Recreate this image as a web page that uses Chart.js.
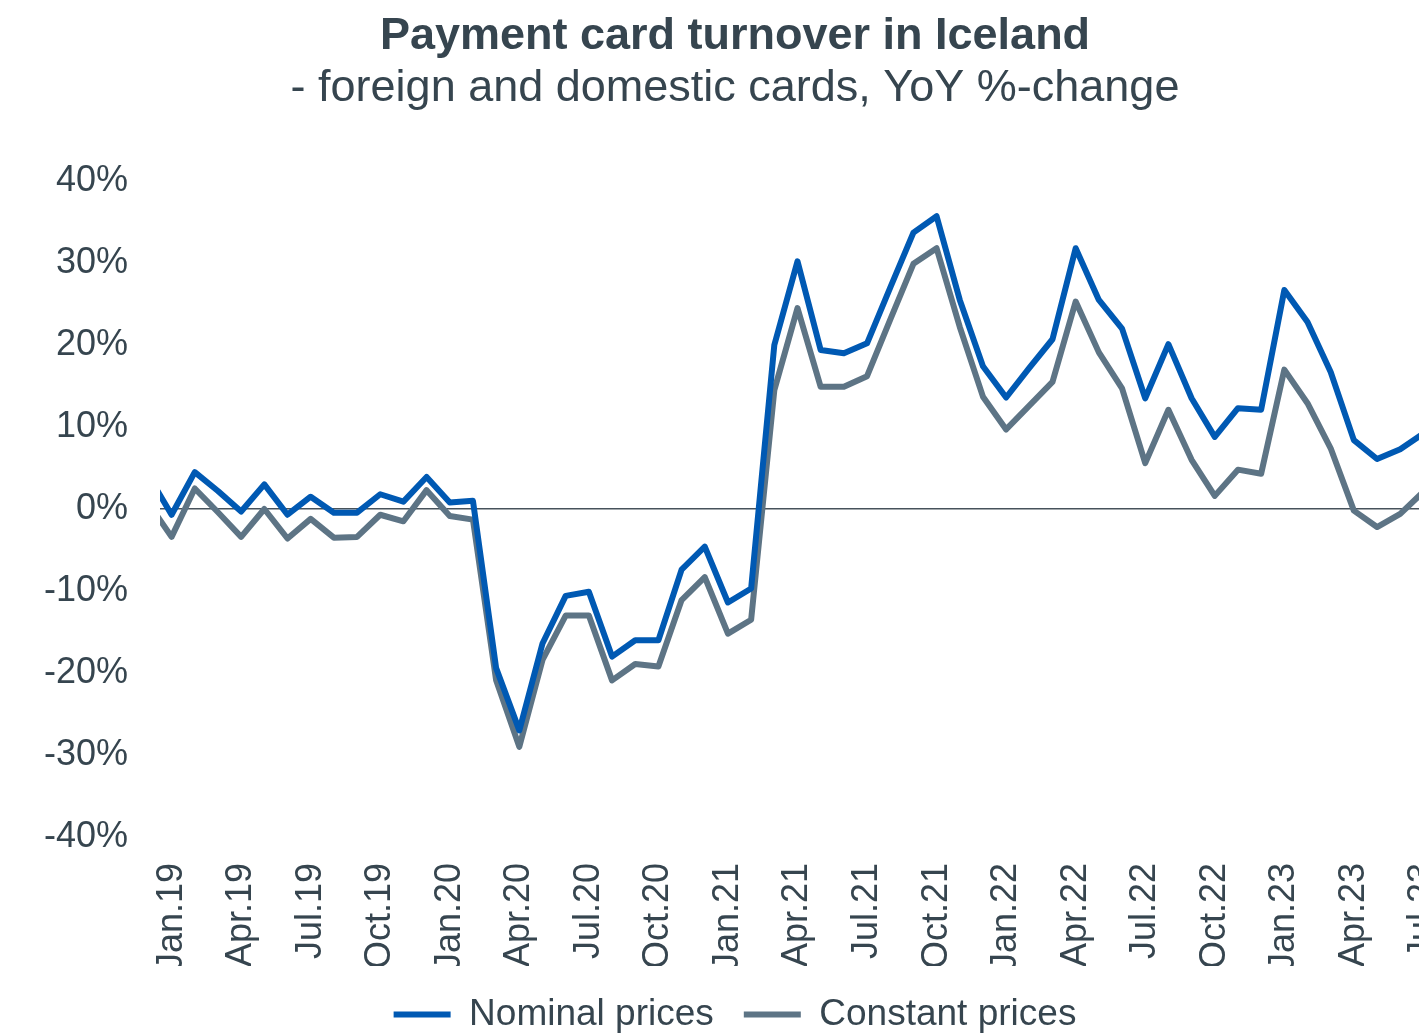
<!DOCTYPE html>
<html>
<head>
<meta charset="utf-8">
<title>Payment card turnover in Iceland</title>
<script src="https://cdn.jsdelivr.net/npm/chart.js@4"></script>
<style>
  html, body { margin: 0; padding: 0; overflow: hidden; background: #fff; }
</style>
</head>
<body>
<canvas id="card-chart" width="1470" height="1035"></canvas>
<script>
// monthly categories, Dec.18 is only partly visible at the left edge
const months = [
  'Dec.18',
  'Jan.19', 'Feb.19', 'Mar.19', 'Apr.19', 'May.19', 'Jun.19', 'Jul.19', 'Aug.19', 'Sep.19', 'Oct.19', 'Nov.19', 'Dec.19',
  'Jan.20', 'Feb.20', 'Mar.20', 'Apr.20', 'May.20', 'Jun.20', 'Jul.20', 'Aug.20', 'Sep.20', 'Oct.20', 'Nov.20', 'Dec.20',
  'Jan.21', 'Feb.21', 'Mar.21', 'Apr.21', 'May.21', 'Jun.21', 'Jul.21', 'Aug.21', 'Sep.21', 'Oct.21', 'Nov.21', 'Dec.21',
  'Jan.22', 'Feb.22', 'Mar.22', 'Apr.22', 'May.22', 'Jun.22', 'Jul.22', 'Aug.22', 'Sep.22', 'Oct.22', 'Nov.22', 'Dec.22',
  'Jan.23', 'Feb.23', 'Mar.23', 'Apr.23', 'May.23', 'Jun.23', 'Jul.23'
];

const xTickLabels = ['Jan.19', 'Apr.19', 'Jul.19', 'Oct.19', 'Jan.20', 'Apr.20', 'Jul.20', 'Oct.20', 'Jan.21', 'Apr.21',
  'Jul.21', 'Oct.21', 'Jan.22', 'Apr.22', 'Jul.22', 'Oct.22', 'Jan.23', 'Apr.23', 'Jul.23'];

// YoY %-change
const nominal = [
  4.1,
  -0.7, 4.5, 2.2, -0.3, 3.0, -0.7, 1.5, -0.45, -0.45, 1.8, 0.9, 3.9,
  0.8, 1.0, -19.4, -27.0, -16.4, -10.6, -10.1, -18.0, -16.0, -16.0, -7.4, -4.6,
  -11.4, -9.7, 20.0, 30.2, 19.4, 19.0, 20.2, 27.0, 33.7, 35.7, 25.5, 17.4,
  13.6, 17.2, 20.7, 31.8, 25.5, 22.0, 13.5, 20.1, 13.5, 8.8, 12.3, 12.1,
  26.7, 22.8, 16.7, 8.4, 6.1, 7.3, 9.2
];

const constant = [
  0.7,
  -3.4, 2.5, -0.4, -3.4, 0.0, -3.6, -1.2, -3.5, -3.4, -0.7, -1.5, 2.3,
  -0.85, -1.3, -20.9, -29.0, -18.4, -13.0, -13.0, -20.9, -18.9, -19.2, -11.1, -8.3,
  -15.2, -13.5, 14.5, 24.5, 14.9, 14.9, 16.2, 23.1, 29.9, 31.8, 22.2, 13.7,
  9.7, 12.6, 15.5, 25.3, 19.1, 14.7, 5.6, 12.1, 6.0, 1.6, 4.8, 4.3,
  17.0, 12.9, 7.4, -0.2, -2.2, -0.6, 2.1
];

const textColor = '#36454f';
const blue = '#0059b3';
const grey = '#5d7485';
const zeroColor = '#47525b';

Chart.defaults.font.family = '"Liberation Sans", Arial, sans-serif';

const toPoints = (vals) => vals.map((v, i) => ({x: i, y: v}));
const tickIdx = xTickLabels.map(l => months.indexOf(l));

const lineStyle = {
  borderWidth: 6,
  pointRadius: 0,
  tension: 0,
  borderJoinStyle: 'round',
  borderCapStyle: 'round',
  clip: {left: 0, top: 10, right: 10, bottom: 10}
};

const config = {
  type: 'line',
  data: {
    datasets: [{
      label: 'Nominal prices',
      data: toPoints(nominal),
      borderColor: blue,
      backgroundColor: blue,
      ...lineStyle
    },
    {
      label: 'Constant prices',
      data: toPoints(constant),
      borderColor: grey,
      backgroundColor: grey,
      ...lineStyle
    }]
  },
  options: {
    responsive: false,
    animation: false,
    layout: {
      padding: 0
    },
    scales: {
      x: {
        type: 'linear',
        min: 0.5,
        max: 55.5,
        border: {display: false},
        grid: {display: false},
        afterBuildTicks: (scale) => {
          scale.ticks = tickIdx.map(i => ({value: i}));
        },
        afterFit: (scale) => {
          scale.height = 129;
          scale.paddingRight = 35;
        },
        ticks: {
          autoSkip: false,
          minRotation: 90,
          maxRotation: 90,
          padding: 18,
          color: textColor,
          font: {size: 36},
          callback: (v) => months[v]
        }
      },
      y: {
        min: -40,
        max: 40,
        border: {display: false},
        grid: {
          drawTicks: false,
          color: (c) => (c.tick && c.tick.value === 0) ? zeroColor : 'rgba(0,0,0,0)',
          lineWidth: 1.5
        },
        afterFit: (scale) => {
          scale.width = 160;
        },
        ticks: {
          stepSize: 10,
          padding: 32,
          color: textColor,
          font: {size: 36},
          callback: (v) => v + '%'
        }
      }
    },
    plugins: {
      title: {
        display: true,
        text: 'Payment card turnover in Iceland',
        color: textColor,
        font: {size: 45, weight: 'bold', lineHeight: 1.15},
        padding: {top: 11, bottom: 0}
      },
      subtitle: {
        display: true,
        text: '- foreign and domestic cards, YoY %-change',
        color: textColor,
        font: {size: 45, lineHeight: 1.15},
        padding: {top: 0, bottom: 66.5}
      },
      legend: {
        position: 'bottom',
        maxHeight: 69,
        labels: {
          usePointStyle: true,
          pointStyle: 'line',
          pointStyleWidth: 57,
          color: textColor,
          font: {size: 37},
          padding: 30
        }
      },
      tooltip: {enabled: false}
    }
  }
};

const myChart = new Chart(document.getElementById('card-chart'), config);
</script>
</body>
</html>
